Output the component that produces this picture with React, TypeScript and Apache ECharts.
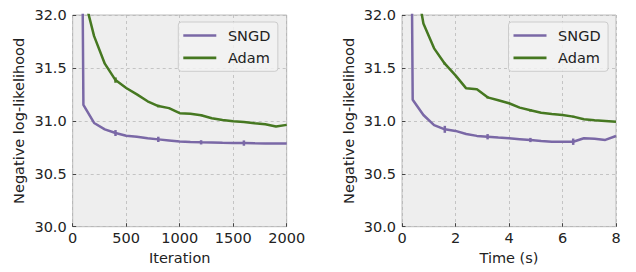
import React, { useEffect, useRef } from "react";
import * as echarts from "echarts";

// ---- data ----
const iterations = [0, 100, 200, 300, 400, 500, 600, 700, 800, 900, 1000, 1100, 1200, 1300, 1400, 1500, 1600, 1700, 1800, 1900, 2000];
const sngdByIter = [45, 31.15, 30.98, 30.92, 30.885, 30.86, 30.85, 30.835, 30.825, 30.815, 30.805, 30.8, 30.797, 30.795, 30.792, 30.79, 30.79, 30.788, 30.787, 30.786, 30.786];
const adamByIter = [40, 32.2, 31.8, 31.54, 31.385, 31.31, 31.25, 31.185, 31.14, 31.12, 31.072, 31.067, 31.053, 31.024, 31.008, 30.997, 30.99, 30.977, 30.967, 30.946, 30.962];

const times = [0, 0.4, 0.8, 1.2, 1.6, 2.0, 2.4, 2.8, 3.2, 3.6, 4.0, 4.4, 4.8, 5.2, 5.6, 6.0, 6.4, 6.8, 7.2, 7.6, 8.0];
const sngdByTime = [45, 31.2, 31.055, 30.96, 30.92, 30.905, 30.876, 30.858, 30.85, 30.842, 30.835, 30.827, 30.819, 30.81, 30.803, 30.803, 30.803, 30.835, 30.83, 30.82, 30.857];
const adamByTime = [40, 32.5, 31.92, 31.685, 31.54, 31.43, 31.307, 31.298, 31.222, 31.195, 31.166, 31.125, 31.1, 31.077, 31.065, 31.055, 31.04, 31.015, 31.005, 30.999, 30.992];

// error bars (half-widths) at every 4th point
const errIndex = [4, 8, 12, 16];
const sngdIterErr = [0.028, 0.025, 0.02, 0.025];
const adamIterErr = [0.025, 0.012, 0.008, 0.008];
const sngdTimeErr = [0.033, 0.025, 0.02, 0.03];
const adamTimeErr = [0.01, 0.01, 0.012, 0.008];

const xTicksIter = [0, 500, 1000, 1500, 2000];
const xTicksTime = [0, 2, 4, 6, 8];
const yTicks = [30.0, 30.5, 31.0, 31.5, 32.0];

const PURPLE = "#7A68A6";
const GREEN = "#467821";
const FONT = "DejaVu Sans";
const FS = 14.5;

function pairs(xs: number[], ys: number[]) {
  return xs.map((x, i) => [x, ys[i]]);
}
function errData(xs: number[], ys: number[], errs: number[]) {
  return errIndex.map((idx, k) => [xs[idx], ys[idx] - errs[k], ys[idx] + errs[k]]);
}

function errSeries(name: string, data: number[][], color: string, axis: number) {
  return {
    type: "custom",
    name,
    xAxisIndex: axis,
    yAxisIndex: axis,
    data,
    encode: { x: 0, y: [1, 2] },
    z: 3,
    renderItem: (params: any, api: any) => {
      const p1 = api.coord([api.value(0), api.value(1)]);
      const p2 = api.coord([api.value(0), api.value(2)]);
      return {
        type: "line",
        shape: { x1: p1[0], y1: p1[1], x2: p2[0], y2: p2[1] },
        style: { stroke: color, lineWidth: 2.5 },
      };
    },
  };
}

function lineSeries(name: string, data: number[][], color: string, axis: number) {
  return {
    type: "line",
    name,
    xAxisIndex: axis,
    yAxisIndex: axis,
    data,
    showSymbol: false,
    symbol: "none",
    clip: true,
    color,
    lineStyle: { color, width: 2.5 },
    z: 2,
  };
}

function xAxis(grid: number, ticks: number[], name: string) {
  return {
    type: "value",
    gridIndex: grid,
    min: ticks[0],
    max: ticks[ticks.length - 1],
    interval: ticks[1] - ticks[0],
    name,
    nameLocation: "middle",
    nameGap: 24,
    nameTextStyle: { fontFamily: FONT, fontSize: FS, color: "#222" },
    axisLine: { show: false },
    axisTick: { show: true, inside: true, length: 3.5, lineStyle: { color: "#444", width: 1 } },
    axisLabel: {
      fontFamily: FONT,
      fontSize: FS,
      color: "#222",
      margin: 4,
      formatter: (v: number) => String(v),
    },
    splitLine: { show: true, lineStyle: { color: "#b2b2b2", type: [3, 3], width: 0.7 } },
  };
}

function yAxis(grid: number) {
  return {
    type: "value",
    gridIndex: grid,
    min: yTicks[0],
    max: yTicks[yTicks.length - 1],
    interval: yTicks[1] - yTicks[0],
    name: "Negative log-likelihood",
    nameLocation: "middle",
    nameGap: 46,
    nameTextStyle: { fontFamily: FONT, fontSize: FS, color: "#222" },
    axisLine: { show: false },
    axisTick: { show: true, inside: true, length: 3.5, lineStyle: { color: "#444", width: 1 } },
    axisLabel: {
      fontFamily: FONT,
      fontSize: FS,
      color: "#222",
      margin: 6,
      formatter: (v: number) => v.toFixed(1),
    },
    splitLine: { show: true, lineStyle: { color: "#b2b2b2", type: [3, 3], width: 0.7 } },
  };
}

function legend(left: number) {
  return {
    left,
    top: 22,
    orient: "vertical",
    data: ["SNGD", "Adam"],
    icon: "rect",
    itemWidth: 33,
    itemHeight: 2.7,
    itemGap: 6.3,
    itemStyle: { borderWidth: 0 },
    textStyle: { fontFamily: FONT, fontSize: FS, color: "#222", lineHeight: 16, padding: [0, 0, 0, 6.6] },
    padding: [5.5, 7.5, 5.5, 5],
    backgroundColor: "rgba(242,242,242,0.85)",
    borderColor: "#cccccc",
    borderWidth: 1,
    borderRadius: 3,
    selectedMode: false,
  };
}

export default function App() {
  const ref = useRef<HTMLDivElement>(null);
  useEffect(() => {
    if (!ref.current) return;
    const chart = echarts.init(ref.current, undefined, { renderer: "svg" });
    const gridStyle = {
      show: true,
      backgroundColor: "#eeeeee",
      borderColor: "#bcbcbc",
      borderWidth: 1,
      top: 15,
      height: 211.7,
      width: 214,
    };
    chart.setOption({
      animation: false,
      grid: [
        { ...gridStyle, left: 72.7 },
        { ...gridStyle, left: 402 },
      ],
      legend: [legend(178.3), legend(508.5)],
      xAxis: [xAxis(0, xTicksIter, "Iteration"), xAxis(1, xTicksTime, "Time (s)")],
      yAxis: [yAxis(0), yAxis(1)],
      series: [
        lineSeries("SNGD", pairs(iterations, sngdByIter), PURPLE, 0),
        lineSeries("Adam", pairs(iterations, adamByIter), GREEN, 0),
        errSeries("SNGD err", errData(iterations, sngdByIter, sngdIterErr), PURPLE, 0),
        errSeries("Adam err", errData(iterations, adamByIter, adamIterErr), GREEN, 0),
        lineSeries("SNGD", pairs(times, sngdByTime), PURPLE, 1),
        lineSeries("Adam", pairs(times, adamByTime), GREEN, 1),
        errSeries("SNGD err", errData(times, sngdByTime, sngdTimeErr), PURPLE, 1),
        errSeries("Adam err", errData(times, adamByTime, adamTimeErr), GREEN, 1),
      ],
    });
    return () => chart.dispose();
  }, []);
  return (
    <div
      ref={ref}
      style={{ position: "fixed", left: 0, top: 0, width: 636, height: 272, background: "#ffffff" }}
    />
  );
}
